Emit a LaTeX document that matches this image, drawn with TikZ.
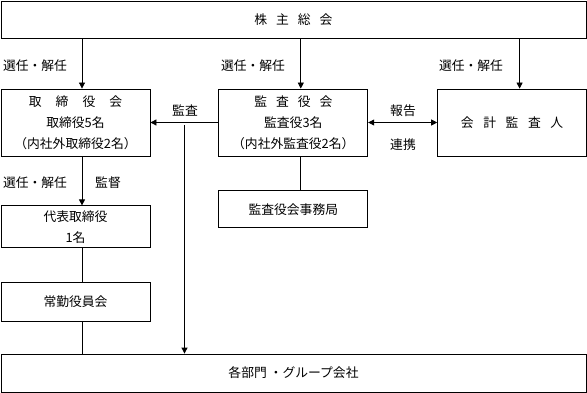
\documentclass[tikz,border=0pt]{standalone}
\usepackage{fontspec}
\setmainfont{Noto Sans CJK JP}
\usetikzlibrary{arrows.meta,positioning}

\begin{document}
\begin{tikzpicture}[x=1pt,y=-1pt,font=\fontsize{12.8pt}{21pt}\selectfont,box/.style={draw,line width=0.8pt,align=center,minimum width=149pt,minimum height=67pt,inner sep=0pt},sbox/.style={box,minimum height=37pt},wide/.style={box,minimum width=585pt,minimum height=37pt},arr/.style={line width=0.8pt,-{Triangle[length=6pt,width=6pt]}},dbl/.style={line width=0.8pt,{Triangle[length=6pt,width=6pt]}-{Triangle[length=6pt,width=6pt]}},ln/.style={line width=0.8pt}]
\useasboundingbox (0,0) rectangle (587,393);
\node[wide] (gm) at (293.5,19.5) {株\hspace{0.7em}主\hspace{0.7em}総\hspace{0.7em}会};
\node[box] (bod) at (75.5,122.5) {取\hspace{1.1em}締\hspace{1.1em}役\hspace{1.1em}会\\取締役5名\\（内社外取締役2名）};
\node[box,right=68pt of bod] (asb) {監\hspace{0.7em}査\hspace{0.7em}役\hspace{0.7em}会\\監査役3名\\（内社外監査役2名）};
\node[box,right=69pt of asb] (acc) {会\hspace{0.75em}計\hspace{0.75em}監\hspace{0.75em}査\hspace{0.75em}人};
\node[sbox,below=34pt of asb] (sec) {監査役会事務局};
\node[sbox,below=49pt of bod,minimum height=42pt] (rep) {代表取締役\\1名};
\node[sbox,below=34pt of rep,minimum height=39pt] (exe) {常勤役員会};
\node[wide,minimum height=38pt] (grp) at (293.5,373) {各部門\ ・グループ会社};
% 選任・解任
\draw[arr] ([xshift=6.5pt]bod.north |- gm.south) -- ([xshift=6.5pt]bod.north);
\draw[arr] ([xshift=7.5pt]asb.north |- gm.south) -- ([xshift=7.5pt]asb.north);
\draw[arr] ([xshift=7.5pt]acc.north |- gm.south) -- ([xshift=7.5pt]acc.north);
\node (l1) at (35,66) {選任・解任};
\node (l2) at (253,66) {選任・解任};
\node (l3) at (471,66) {選任・解任};
% 監査
\draw[arr] (asb.west) -- (bod.east);
\coordinate (aud) at (184.5,125);
\draw[arr] (aud) -- (aud |- grp.north);
\node (l4) at (185,111) {監査};
\draw[dbl] (asb.east) -- (acc.west);
\node (l5) at (403,111) {報告};
\node (l6) at (403,145) {連携};
\draw[ln] ([xshift=7.5pt]asb.south) -- ([xshift=7.5pt]sec.north);
% 監督
\draw[arr] ([xshift=6.5pt]bod.south) -- ([xshift=6.5pt]rep.north);
\node (l7) at (35,183) {選任・解任};
\node (l8) at (108,183) {監督};
\draw[ln] ([xshift=6.5pt]rep.south) -- ([xshift=6.5pt]exe.north);
\draw[ln] ([xshift=6.5pt]exe.south) -- ([xshift=6.5pt]exe.south |- grp.north);
\end{tikzpicture}
\end{document}
